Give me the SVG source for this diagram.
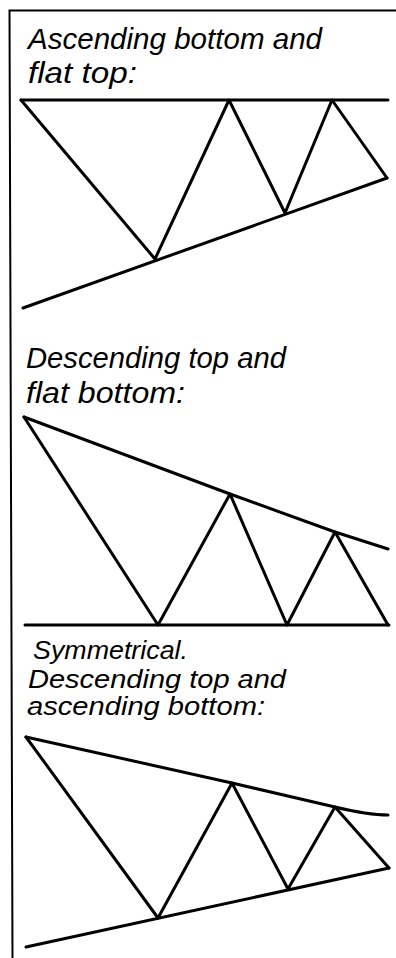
<svg xmlns="http://www.w3.org/2000/svg" width="396" height="958" viewBox="0 0 396 958">
<style>
.t{font-family:"Liberation Sans",Arial,sans-serif;font-style:italic;font-size:29px;fill:#000}
.s{font-size:26px}
.ln{fill:none;stroke:#000;stroke-width:3;stroke-linecap:round;stroke-linejoin:round}
.fr{fill:none;stroke:#000;stroke-width:2}
</style>
<rect width="396" height="958" fill="#fff"/>
<g id="frame">
<path class="fr" d="M396,10.5 L9.5,10.5 L12.5,958"/>
</g>
<g id="panel1">
<text class="t" x="28" y="49" textLength="294" lengthAdjust="spacingAndGlyphs">Ascending bottom and</text>
<text class="t" x="28" y="83" textLength="109" lengthAdjust="spacingAndGlyphs">flat top:</text>
<g class="connectors">
<line class="ln" x1="21" y1="100" x2="388" y2="100"/>
<line class="ln" x1="23" y1="308" x2="387" y2="178"/>
<polyline class="ln" points="21,100 155,259 229,100 285,213 332,100 387,178"/>
</g>
</g>
<g id="panel2">
<text class="t" x="26" y="368" textLength="260" lengthAdjust="spacingAndGlyphs">Descending top and</text>
<text class="t" x="26" y="403" textLength="159" lengthAdjust="spacingAndGlyphs">flat bottom:</text>
<g class="connectors">
<polyline class="ln" points="24,417 230,494 335,532 388,549"/>
<line class="ln" x1="25" y1="625" x2="389" y2="625"/>
<polyline class="ln" points="24,417 158,625 230,494 287,625 335,532 388,625"/>
</g>
</g>
<g id="panel3">
<text class="t s" x="33" y="659" textLength="155" lengthAdjust="spacingAndGlyphs">Symmetrical.</text>
<text class="t s" x="28" y="688" textLength="258" lengthAdjust="spacingAndGlyphs">Descending top and</text>
<text class="t s" x="27" y="715" textLength="238" lengthAdjust="spacingAndGlyphs">ascending bottom:</text>
<g class="connectors">
<path class="ln" d="M26,737 L232,783 L335,807 Q368,815 388,815"/>
<line class="ln" x1="26" y1="947" x2="389" y2="868"/>
<polyline class="ln" points="26,737 158,918 232,783 288,889 335,807 389,868"/>
</g>
</g>
</svg>
